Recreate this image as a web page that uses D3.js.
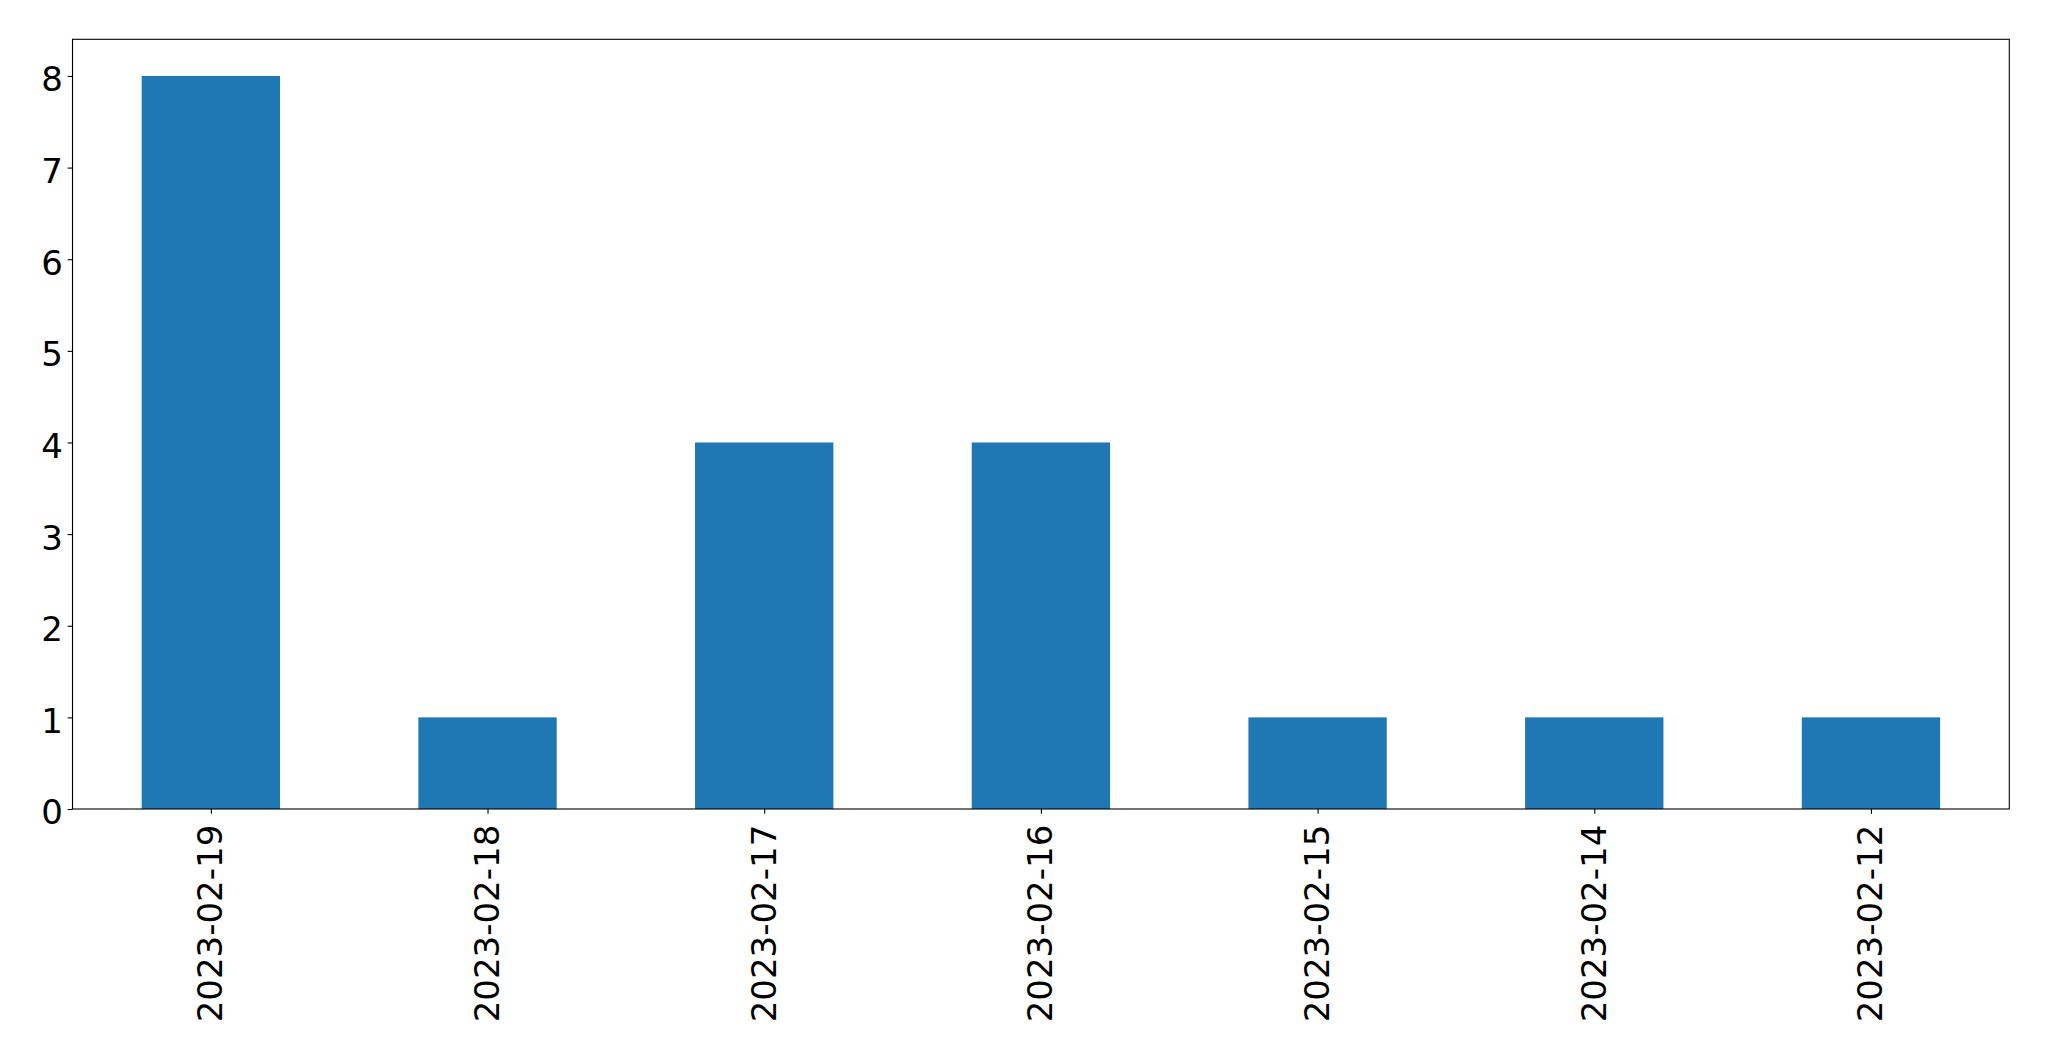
<!DOCTYPE html>
<html>
<head>
<meta charset="utf-8">
<script src="https://cdn.jsdelivr.net/npm/d3@7"></script>
<style>
  html, body { margin: 0; padding: 0; background: #fff; }
  svg { display: block; }
  text { font-family: "DejaVu Sans", sans-serif; fill: #000; }
</style>
</head>
<body>
<svg id="chart" width="2049" height="1061"></svg>
<script>
const categories = ["2023-02-19", "2023-02-18", "2023-02-17", "2023-02-16", "2023-02-15", "2023-02-14", "2023-02-12"];
const values = [8, 1, 4, 4, 1, 1, 1];
const yTicks = [0, 1, 2, 3, 4, 5, 6, 7, 8];

(function () {
const mLeft = 72.5, mRight = 2009.3, mTop = 39.3, mBottom = 809;
const fontSize = 34;
const tickLen = 4.86, pad = 4.86;

const svg = d3.select("#chart");

const x = d3.scaleLinear().domain([-0.5, categories.length - 0.5]).range([mLeft, mRight]);
const y = d3.scaleLinear().domain([0, 8.4]).range([mBottom, mTop]);
const barW = 0.5;

svg.append("g").selectAll("rect")
  .data(values)
  .join("rect")
  .attr("x", (d, i) => x(i - barW / 2))
  .attr("width", (d, i) => x(i + barW / 2) - x(i - barW / 2))
  .attr("y", d => y(d))
  .attr("height", d => y(0) - y(d))
  .attr("fill", "#1f77b4");

// Y axis
const yAxis = d3.axisLeft(y).tickValues(yTicks).tickFormat(d3.format("d"))
  .tickSize(tickLen).tickPadding(pad);
const gy = svg.append("g").attr("transform", `translate(${mLeft},0)`).call(yAxis);
gy.select(".domain").remove();
gy.selectAll("line").attr("stroke", "#000").attr("stroke-width", 1.1);
gy.selectAll("text").attr("font-size", fontSize).attr("font-family", "DejaVu Sans").attr("fill", "#000")
  .attr("dy", "0.44em");

// X axis
const xAxis = d3.axisBottom(x).tickValues(d3.range(categories.length))
  .tickFormat(i => categories[i]).tickSize(tickLen).tickPadding(pad);
const gx = svg.append("g").attr("transform", `translate(0,${mBottom})`).call(xAxis);
gx.select(".domain").remove();
gx.selectAll("line").attr("stroke", "#000").attr("stroke-width", 1.1);
gx.selectAll("text")
  .attr("font-size", fontSize).attr("font-family", "DejaVu Sans").attr("fill", "#000")
  .attr("text-anchor", "end")
  .attr("dy", "0.32em")
  .attr("transform", `translate(0,${tickLen + pad + 6}) rotate(-90)`)
  .attr("x", 0).attr("y", 0);

// Frame
svg.append("rect")
  .attr("x", mLeft).attr("y", mTop)
  .attr("width", mRight - mLeft).attr("height", mBottom - mTop)
  .attr("fill", "none").attr("stroke", "#000").attr("stroke-width", 1.1);
})();
</script>
</body>
</html>
